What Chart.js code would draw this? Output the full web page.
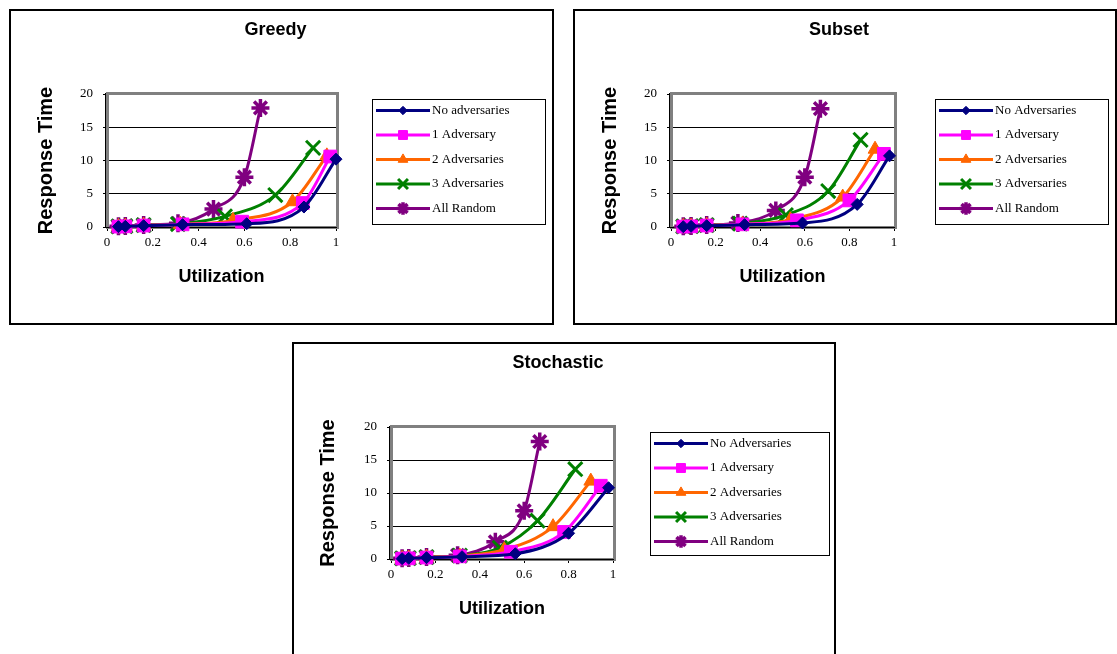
<!DOCTYPE html>
<html>
<head>
<meta charset="utf-8">
<script src="https://cdn.jsdelivr.net/npm/chart.js@4.4.1/dist/chart.umd.min.js"></script>
<style>
  html, body { margin: 0; padding: 0; background: #fff; overflow: hidden; }
  body { width: 1117px; height: 654px; position: relative; }
  .box { position: absolute; border: 2px solid #000; background: #fff; }
  .box canvas { display: block; }
</style>
</head>
<body>
<div class="box" style="left:9px;top:9px;"><canvas id="greedy" width="541" height="312"></canvas></div>
<div class="box" style="left:573px;top:9px;"><canvas id="subset" width="540" height="312"></canvas></div>
<div class="box" style="left:292px;top:342px;"><canvas id="stochastic" width="540" height="312"></canvas></div>
<script>
// --- data: [utilization, response time] ---
const greedyNone  = [[0.05, 0.05], [0.08, 0.1], [0.16, 0.2], [0.33, 0.35], [0.61, 0.5], [0.86, 3.0], [1.0, 10.2]];
const greedyOne   = [[0.05, 0.06], [0.08, 0.1], [0.16, 0.22], [0.33, 0.4], [0.59, 0.8], [0.855, 3.6], [0.975, 10.6]];
const greedyTwo   = [[0.05, 0.07], [0.08, 0.12], [0.16, 0.25], [0.32, 0.4], [0.55, 1.0], [0.81, 3.8], [0.96, 10.7]];
const greedyThree = [[0.05, 0.08], [0.08, 0.12], [0.16, 0.28], [0.31, 0.45], [0.515, 1.6], [0.735, 4.8], [0.9, 11.9]];
const greedyRand  = [[0.05, 0.1], [0.08, 0.15], [0.16, 0.3], [0.31, 0.55], [0.465, 2.7], [0.6, 7.5], [0.67, 17.9]];

const subsetNone  = [[0.055, 0.05], [0.09, 0.1], [0.16, 0.2], [0.33, 0.35], [0.59, 0.6], [0.835, 3.4], [0.98, 10.7]];
const subsetOne   = [[0.055, 0.06], [0.09, 0.1], [0.16, 0.22], [0.32, 0.4], [0.565, 1.0], [0.8, 4.0], [0.955, 11.0]];
const subsetTwo   = [[0.055, 0.07], [0.09, 0.12], [0.16, 0.25], [0.32, 0.4], [0.535, 1.1], [0.77, 4.5], [0.915, 11.7]];
const subsetThree = [[0.055, 0.08], [0.09, 0.12], [0.16, 0.28], [0.31, 0.5], [0.515, 1.8], [0.705, 5.4], [0.85, 13.1]];
const subsetRand  = [[0.055, 0.1], [0.09, 0.15], [0.16, 0.3], [0.3, 0.6], [0.47, 2.5], [0.6, 7.5], [0.67, 17.8]];

const stochNone  = [[0.05, 0.05], [0.08, 0.1], [0.16, 0.2], [0.32, 0.35], [0.56, 0.8], [0.8, 3.9], [0.98, 10.8]];
const stochOne   = [[0.05, 0.06], [0.08, 0.1], [0.16, 0.22], [0.31, 0.4], [0.54, 1.1], [0.78, 4.1], [0.945, 11.1]];
const stochTwo   = [[0.05, 0.07], [0.08, 0.12], [0.16, 0.25], [0.31, 0.45], [0.51, 1.4], [0.73, 4.9], [0.9, 11.8]];
const stochThree = [[0.05, 0.08], [0.08, 0.12], [0.16, 0.28], [0.31, 0.5], [0.49, 1.7], [0.66, 5.8], [0.83, 13.6]];
const stochRand  = [[0.05, 0.1], [0.08, 0.15], [0.16, 0.3], [0.3, 0.55], [0.47, 2.6], [0.6, 7.3], [0.67, 17.8]];

const greedyNames = ['No adversaries', '1 Adversary', '2 Adversaries', '3 Adversaries', 'All Random'];
const seriesNames = ['No Adversaries', '1 Adversary', '2 Adversaries', '3 Adversaries', 'All Random'];

const xTicks = [0, 0.2, 0.4, 0.6, 0.8, 1];
const yTicks = [0, 5, 10, 15, 20];

// series look (colour, marker)
const styles = [
  { color: '#000080', pointStyle: 'rectRot', radius: 6, borderWidth: 1 },
  { color: '#FF00FF', pointStyle: 'rect', radius: 9, borderWidth: 1 },
  { color: '#FF6600', pointStyle: 'triangle', radius: 8, borderWidth: 1 },
  { color: '#008000', pointStyle: 'crossRot', radius: 10, borderWidth: 3 },
  { color: '#800080', pointStyle: 'star', radius: 9, borderWidth: 3.5 }
];

const serif = "'Liberation Serif', 'Times New Roman', serif";
const sans = "'Liberation Sans', Arial, sans-serif";

// chart title, plot frame and the boxed legend are drawn here
const decorPlugin = {
  id: 'decor',
  beforeDatasetsDraw(chart) {
    const { ctx, chartArea: a } = chart;
    ctx.save();
    ctx.strokeStyle = '#808080';
    ctx.lineWidth = 3;
    ctx.strokeRect(a.left + 0.5, a.top - 0.5, a.right - a.left + 1, a.bottom - a.top + 1);
    ctx.strokeStyle = '#000';
    ctx.lineWidth = 1;
    ctx.beginPath();
    ctx.moveTo(a.left - 1.5, a.top - 1);
    ctx.lineTo(a.left - 1.5, a.bottom + 0.5);
    ctx.lineTo(a.right + 1, a.bottom + 0.5);
    ctx.stroke();
    ctx.restore();
  },
  afterDraw(chart, args, opts) {
    const { ctx } = chart;
    ctx.save();
    // title
    ctx.fillStyle = '#000';
    ctx.font = 'bold 18px ' + sans;
    ctx.textAlign = 'center';
    ctx.textBaseline = 'middle';
    ctx.fillText(opts.title, opts.titleX, 19);

    // legend
    const L = opts.legend;
    ctx.strokeStyle = '#000';
    ctx.lineWidth = 1;
    ctx.strokeRect(L.x + 0.5, L.y + 0.5, L.w, L.h);
    ctx.font = '13px ' + serif;
    ctx.textAlign = 'left';
    chart.data.datasets.forEach((ds, i) => {
      const y = L.y + 11.5 + i * 24.5;
      ctx.strokeStyle = ds.borderColor;
      ctx.lineWidth = 3;
      ctx.beginPath();
      ctx.moveTo(L.x + 4, y);
      ctx.lineTo(L.x + 58, y);
      ctx.stroke();
      ctx.fillStyle = ds.backgroundColor;
      ctx.lineWidth = ds.pointBorderWidth;
      Chart.helpers.drawPoint(ctx, {
        pointStyle: ds.pointStyle, radius: ds.pointRadius * 0.7,
        borderWidth: ds.pointBorderWidth, rotation: 0
      }, L.x + 31, y);
      ctx.fillStyle = '#000';
      ctx.fillText(ds.label, L.x + 60, y);
    });
    ctx.restore();
  }
};

function makeChart(id, title, names, series, layout) {
  const canvas = document.getElementById(id);
  const datasets = series.map((pts, i) => ({
    label: names[i],
    data: pts.map(p => ({ x: p[0], y: p[1] })),
    showLine: true,
    borderColor: styles[i].color,
    backgroundColor: styles[i].color,
    pointBackgroundColor: styles[i].color,
    pointBorderColor: styles[i].color,
    borderWidth: 3,
    pointStyle: styles[i].pointStyle,
    pointRadius: styles[i].radius,
    pointBorderWidth: styles[i].borderWidth,
    cubicInterpolationMode: 'monotone',
    clip: false
  }));

  return new Chart(canvas, {
    type: 'scatter',
    data: { datasets },
    options: {
      responsive: false,
      animation: false,
      events: [],
      layout: {
        padding: { left: 0, top: 83, right: canvas.width - layout.plotRight, bottom: 0 }
      },
      plugins: {
        legend: { display: false },
        title: { display: false },
        tooltip: { enabled: false },
        decor: { title, titleX: canvas.width / 2 - 6, legend: layout.legend }
      },
      scales: {
        x: {
          type: 'linear',
          min: 0, max: 1,
          afterBuildTicks: s => { s.ticks = xTicks.map(v => ({ value: v })); },
          afterFit: s => { s.height = canvas.height - layout.plotBottom; },
          grid: { drawOnChartArea: false, color: '#000', tickLength: 4 },
          border: { display: false },
          ticks: {
            color: '#000', font: { family: serif, size: 13 }, padding: 4, maxRotation: 0,
            callback: v => String(v)
          },
          title: {
            display: true, text: 'Utilization', color: '#000',
            font: { family: sans, size: 18, weight: 'bold' },
            padding: { top: 0, bottom: canvas.height - layout.xTitleY - 11 }
          }
        },
        y: {
          type: 'linear',
          min: 0, max: 20,
          afterBuildTicks: s => { s.ticks = yTicks.map(v => ({ value: v })); },
          afterFit: s => { s.width = layout.plotLeft; },
          grid: { color: '#000', lineWidth: 1, tickLength: 4 },
          border: { display: false },
          ticks: { color: '#000', font: { family: serif, size: 13 }, padding: 10, callback: v => String(v) },
          title: {
            display: true, text: 'Response Time', color: '#000',
            font: { family: sans, size: 20, weight: 'bold' },
            padding: { top: layout.yTitleX - 12, bottom: 0 }
          }
        }
      }
    },
    plugins: [decorPlugin]
  });
}

makeChart('greedy', 'Greedy', greedyNames,
  [greedyNone, greedyOne, greedyTwo, greedyThree, greedyRand],
  { plotLeft: 96, plotRight: 325, plotBottom: 216, xTitleY: 266, yTitleX: 35,
    legend: { x: 361, y: 88, w: 173, h: 125 } });

makeChart('subset', 'Subset', seriesNames,
  [subsetNone, subsetOne, subsetTwo, subsetThree, subsetRand],
  { plotLeft: 96, plotRight: 319, plotBottom: 216, xTitleY: 266, yTitleX: 35,
    legend: { x: 360, y: 88, w: 173, h: 125 } });

makeChart('stochastic', 'Stochastic', seriesNames,
  [stochNone, stochOne, stochTwo, stochThree, stochRand],
  { plotLeft: 97, plotRight: 319, plotBottom: 215, xTitleY: 265, yTitleX: 34,
    legend: { x: 356, y: 88, w: 179, h: 123 } });
</script>
</body>
</html>
